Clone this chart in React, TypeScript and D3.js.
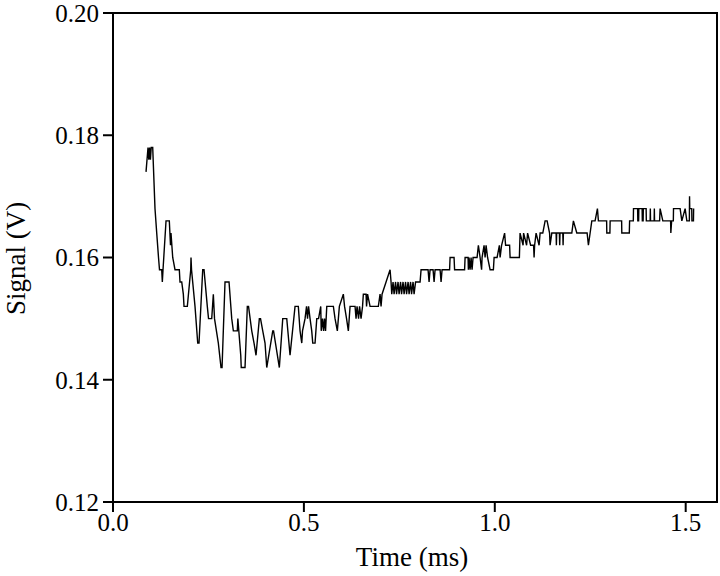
import React from 'react';
import * as d3 from 'd3';

// signal trace: [time (ms), signal (V)]
const trace: [number, number][] = [
  [0.0865, 0.174], [0.0917, 0.178], [0.0938, 0.176], [0.0959, 0.178], [0.098, 0.176],
  [0.1001, 0.178], [0.104, 0.178], [0.11, 0.168], [0.1145, 0.164], [0.1192, 0.16],
  [0.1218, 0.158], [0.1276, 0.158], [0.1292, 0.156], [0.131, 0.158], [0.1389, 0.166],
  [0.1475, 0.166], [0.1506, 0.162], [0.1519, 0.164], [0.1564, 0.16], [0.1624, 0.158],
  [0.1737, 0.158], [0.1755, 0.156], [0.18, 0.156], [0.1842, 0.154], [0.186, 0.152],
  [0.1947, 0.152], [0.2036, 0.158], [0.2043, 0.16], [0.2057, 0.158], [0.2148, 0.152],
  [0.2219, 0.146], [0.2253, 0.146], [0.235, 0.158], [0.2384, 0.158], [0.247, 0.152],
  [0.2502, 0.15], [0.2586, 0.15], [0.2628, 0.154], [0.2659, 0.15], [0.2759, 0.146],
  [0.2829, 0.142], [0.2856, 0.142], [0.2934, 0.156], [0.3039, 0.156], [0.311, 0.15],
  [0.3152, 0.148], [0.3256, 0.148], [0.327, 0.15], [0.3346, 0.144], [0.3359, 0.142],
  [0.3458, 0.142], [0.3518, 0.152], [0.355, 0.152], [0.3634, 0.148], [0.3694, 0.146],
  [0.3746, 0.144], [0.3833, 0.15], [0.3864, 0.15], [0.3922, 0.148], [0.3982, 0.146],
  [0.4027, 0.142], [0.4184, 0.148], [0.4205, 0.148], [0.4357, 0.142], [0.4446, 0.15],
  [0.4551, 0.15], [0.4637, 0.144], [0.4768, 0.152], [0.4854, 0.152], [0.4899, 0.148],
  [0.4944, 0.146], [0.4964, 0.148], [0.503, 0.15], [0.5069, 0.152], [0.5095, 0.15],
  [0.5122, 0.152], [0.5161, 0.15], [0.5205, 0.148], [0.5232, 0.146], [0.5292, 0.146],
  [0.5337, 0.15], [0.5384, 0.15], [0.5441, 0.152], [0.5454, 0.148], [0.5488, 0.15],
  [0.5515, 0.148], [0.5541, 0.15], [0.5567, 0.148], [0.5599, 0.152], [0.5772, 0.152],
  [0.5816, 0.15], [0.5876, 0.148], [0.5929, 0.152], [0.6033, 0.154], [0.6065, 0.152],
  [0.6117, 0.15], [0.6164, 0.148], [0.6209, 0.152], [0.634, 0.152], [0.6366, 0.15],
  [0.6392, 0.152], [0.6432, 0.15], [0.6458, 0.152], [0.6497, 0.15], [0.6536, 0.152],
  [0.6557, 0.154], [0.6628, 0.154], [0.6641, 0.152], [0.6667, 0.154], [0.6733, 0.152],
  [0.695, 0.152], [0.6995, 0.154], [0.7021, 0.152], [0.7047, 0.154], [0.7152, 0.156],
  [0.7257, 0.158], [0.7283, 0.156], [0.7301, 0.154], [0.7335, 0.156], [0.7362, 0.154],
  [0.7401, 0.156], [0.7427, 0.154], [0.7466, 0.156], [0.7493, 0.154], [0.7532, 0.156],
  [0.7558, 0.154], [0.7597, 0.156], [0.7624, 0.154], [0.7663, 0.156], [0.7689, 0.154],
  [0.7729, 0.156], [0.7755, 0.154], [0.7794, 0.156], [0.782, 0.154], [0.7859, 0.156],
  [0.7886, 0.154], [0.7925, 0.156], [0.8043, 0.156], [0.8069, 0.158], [0.8252, 0.158],
  [0.8279, 0.156], [0.8305, 0.158], [0.8383, 0.158], [0.841, 0.156], [0.8436, 0.158],
  [0.8567, 0.158], [0.8593, 0.156], [0.8619, 0.158], [0.8816, 0.158], [0.8829, 0.16],
  [0.8933, 0.16], [0.8947, 0.158], [0.9209, 0.158], [0.9222, 0.16], [0.93, 0.16],
  [0.9308, 0.158], [0.9326, 0.16], [0.9353, 0.158], [0.9379, 0.16], [0.9405, 0.158],
  [0.9431, 0.16], [0.9536, 0.16], [0.957, 0.162], [0.9615, 0.16], [0.9654, 0.158],
  [0.9667, 0.16], [0.9719, 0.162], [0.9746, 0.16], [0.9772, 0.162], [0.9811, 0.16],
  [0.9877, 0.158], [0.9963, 0.158], [0.9982, 0.16], [1.006, 0.16], [1.012, 0.162],
  [1.0139, 0.16], [1.0178, 0.162], [1.0257, 0.164], [1.0283, 0.162], [1.0388, 0.162],
  [1.0401, 0.16], [1.0644, 0.16], [1.0662, 0.164], [1.0741, 0.162], [1.0754, 0.164],
  [1.0833, 0.162], [1.0859, 0.164], [1.0938, 0.162], [1.1016, 0.162], [1.1029, 0.16],
  [1.1043, 0.162], [1.1082, 0.164], [1.116, 0.162], [1.1187, 0.164], [1.1257, 0.164],
  [1.1318, 0.166], [1.137, 0.166], [1.1435, 0.164], [1.1448, 0.162], [1.1493, 0.164],
  [1.1606, 0.164], [1.1613, 0.162], [1.1621, 0.164], [1.1692, 0.164], [1.17, 0.162],
  [1.1708, 0.164], [1.1781, 0.164], [1.1789, 0.162], [1.1797, 0.164], [1.2017, 0.164],
  [1.2059, 0.166], [1.2148, 0.164], [1.2418, 0.164], [1.2452, 0.162], [1.2541, 0.166],
  [1.2627, 0.166], [1.2688, 0.168], [1.2714, 0.166], [1.2929, 0.166], [1.2934, 0.164],
  [1.3015, 0.164], [1.3021, 0.166], [1.3322, 0.166], [1.3327, 0.164], [1.3523, 0.164],
  [1.3531, 0.166], [1.3628, 0.166], [1.3633, 0.168], [1.3741, 0.168], [1.3746, 0.166],
  [1.3767, 0.166], [1.3772, 0.168], [1.3859, 0.168], [1.3864, 0.166], [1.3885, 0.166],
  [1.389, 0.168], [1.3964, 0.168], [1.3969, 0.166], [1.4069, 0.166], [1.4074, 0.168],
  [1.4079, 0.166], [1.4174, 0.166], [1.4179, 0.168], [1.4184, 0.166], [1.4317, 0.166],
  [1.433, 0.168], [1.4401, 0.166], [1.4605, 0.166], [1.4611, 0.164], [1.4632, 0.166],
  [1.4676, 0.166], [1.4681, 0.168], [1.4854, 0.168], [1.4899, 0.166], [1.4985, 0.168],
  [1.503, 0.166], [1.5096, 0.166], [1.5101, 0.17], [1.5106, 0.168], [1.5158, 0.168],
  [1.5163, 0.166], [1.5203, 0.166], [1.5208, 0.168],
];

const xTicks = [0.0, 0.5, 1.0, 1.5];
const yTicks = [0.12, 0.14, 0.16, 0.18, 0.2];

const width = 720;
const height = 576;
const margin = { top: 13, right: 3, bottom: 74, left: 113 };
const serif = { fontFamily: "'Liberation Serif', 'Times New Roman', 'DejaVu Serif', serif" };

export default function App() {
  const x = d3.scaleLinear().domain([0, 1.582]).range([margin.left, width - margin.right]);
  const y = d3.scaleLinear().domain([0.12, 0.2]).range([height - margin.bottom, margin.top]);

  const line = d3.line<[number, number]>()
    .x(d => x(d[0]))
    .y(d => y(d[1]));

  const fmtX = d3.format('.1f');
  const fmtY = d3.format('.2f');
  const bottom = y(0.12);
  const tickLen = 10;

  return (
    <svg
      width={width}
      height={height}
      style={{ position: 'absolute', left: 0, top: 0, background: '#fff' }}
    >
      <path d={line(trace) || ''} fill="none" stroke="#000" strokeWidth={1.4} />

      {/* frame */}
      <rect
        x={x(0)}
        y={y(0.2)}
        width={x.range()[1] - x(0)}
        height={bottom - y(0.2)}
        fill="none"
        stroke="#000"
        strokeWidth={2}
      />

      {yTicks.map(t => (
        <g key={'y' + t}>
          <line x1={x(0) - tickLen} x2={x(0)} y1={y(t)} y2={y(t)} stroke="#000" strokeWidth={2} />
          <text x={x(0) - tickLen - 4} y={y(t)} dy="0.35em" textAnchor="end" fontSize={25} style={serif}>
            {fmtY(t)}
          </text>
        </g>
      ))}

      {xTicks.map(t => (
        <g key={'x' + t}>
          <line x1={x(t)} x2={x(t)} y1={bottom} y2={bottom + tickLen} stroke="#000" strokeWidth={2} />
          <text x={x(t)} y={bottom + 29} textAnchor="middle" fontSize={25} style={serif}>
            {fmtX(t)}
          </text>
        </g>
      ))}

      <text x={(x(0) + x.range()[1]) / 2 - 3} y={566} textAnchor="middle" fontSize={27} style={serif}>
        Time (ms)
      </text>
      <text
        transform={`translate(25,${(y(0.12) + y(0.2)) / 2 + 1}) rotate(-90)`}
        textAnchor="middle"
        fontSize={27}
        style={serif}
      >
        Signal (V)
      </text>
    </svg>
  );
}
